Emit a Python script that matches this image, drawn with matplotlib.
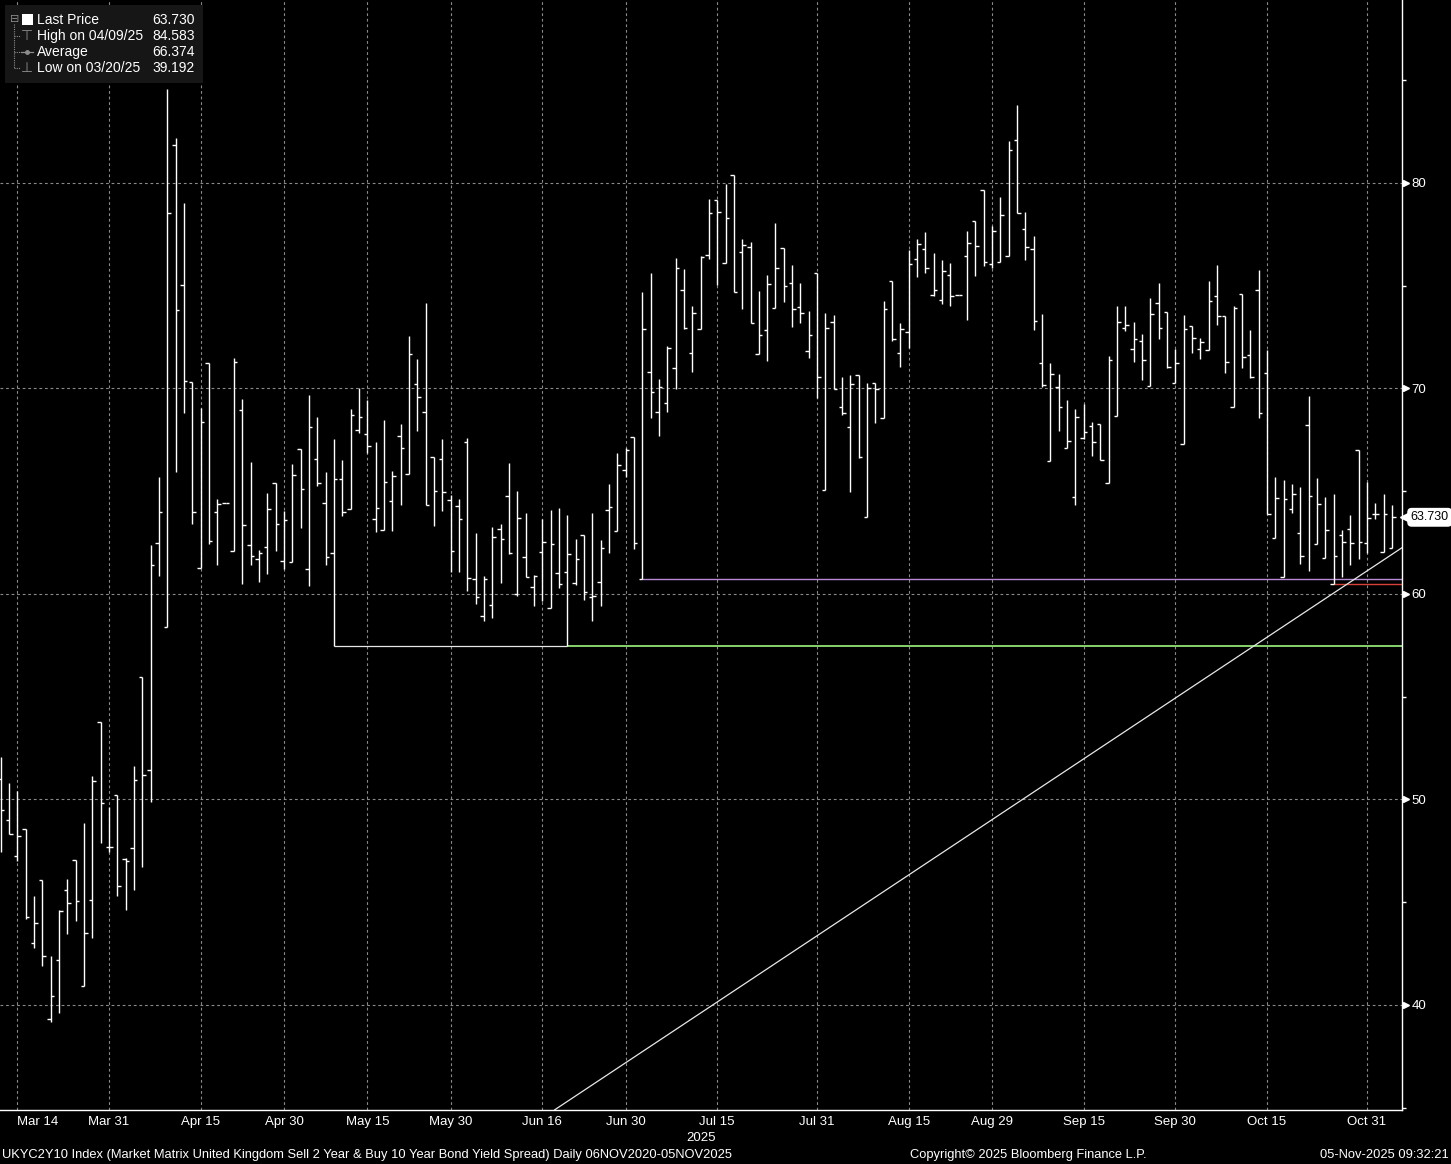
import numpy as np
import matplotlib.pyplot as plt
import matplotlib.transforms as mtransforms
from matplotlib.lines import Line2D
from matplotlib.patches import Rectangle

W, H = 1451, 1164

# daily OHLC, UKYC2Y10 index (bp), 12 Mar 2025 -> 05 Nov 2025
opens = [51.0, 49.0, 47.24, 48.57, 43.0, 46.1, 39.33, 42.2, 45.58, 47.06,
         40.9, 45.09, 53.77, 47.67, 50.2, 47.1, 47.63, 55.98, 51.45, 62.5,
         58.4, 81.84, 75.05, 70.29, 61.26, 71.26, 63.98, 64.42, 62.07, 68.93,
         62.36, 61.7, 62.3, 65.39, 61.62, 61.55, 67.06, 61.21, 66.57, 64.44,
         62.0, 65.61, 64.11, 68.0, 67.76, 63.63, 63.09, 64.5, 67.7, 65.82,
         70.2, 68.83, 66.68, 66.59, 64.59, 64.28, 67.41, 60.73, 58.93, 59.48,
         63.17, 64.76, 60.0, 61.8, 60.36, 62.05, 59.32, 61.02, 61.07, 60.54,
         62.85, 59.85, 60.59, 64.1, 63.06, 66.02, 67.64, 60.75, 70.78, 68.83,
         69.27, 70.97, 74.77, 71.72, 72.91, 76.5, 79.16, 76.08, 80.4, 76.65,
         76.89, 71.67, 72.86, 73.93, 76.84, 75.15, 73.96, 71.8, 75.6, 65.06,
         73.25, 69.08, 68.14, 70.63, 63.75, 70.27, 68.54, 75.21, 71.73, 72.75,
         76.29, 76.78, 74.55, 74.3, 75.53, 74.55, 76.46, 78.16, 79.66, 76.05,
         76.15, 76.46, 82.09, 77.75, 76.78, 71.25, 66.47, 70.05, 67.08, 64.74,
         67.57, 68.15, 68.26, 65.38, 68.64, 72.92, 71.91, 72.3, 70.1, 74.18,
         73.7, 70.24, 67.29, 73.05, 71.91, 71.87, 74.51, 73.5, 69.12, 74.59,
         71.62, 74.79, 70.75, 62.73, 60.83, 64.11, 62.98, 68.2, 62.44, 61.76,
         60.5, 62.85, 63.17, 67.02, 62.46, 63.9, 62.05, 62.24]
highs = [52.07, 50.8, 50.4, 48.57, 45.28, 46.1, 42.4, 44.63, 46.13, 47.06,
         48.86, 51.14, 53.77, 49.63, 50.2, 47.14, 51.63, 55.98, 62.38, 65.7,
         84.58, 82.18, 79.03, 70.29, 69.05, 71.26, 64.6, 64.42, 71.46, 69.48,
         66.41, 62.15, 64.92, 65.39, 64.03, 66.33, 67.06, 69.68, 68.61, 65.92,
         67.53, 66.5, 68.99, 70.0, 69.43, 67.41, 68.46, 66.0, 68.26, 72.54,
         71.43, 74.16, 66.68, 67.53, 64.8, 64.63, 67.6, 62.98, 60.89, 63.27,
         63.38, 66.39, 65.0, 63.92, 60.94, 63.63, 64.08, 64.2, 63.82, 62.68,
         62.85, 63.95, 62.63, 65.37, 66.88, 67.12, 67.64, 74.71, 75.63, 70.45,
         72.07, 76.36, 75.79, 74.01, 76.44, 79.22, 79.16, 79.97, 80.4, 77.25,
         77.12, 74.72, 75.5, 78.03, 76.84, 75.99, 75.11, 73.77, 75.6, 73.69,
         73.56, 70.58, 70.63, 70.63, 70.27, 70.27, 74.24, 75.21, 73.16, 76.75,
         77.27, 77.62, 76.59, 76.26, 76.1, 74.55, 77.67, 78.16, 79.66, 77.91,
         79.3, 82.04, 83.79, 78.58, 77.43, 73.62, 71.25, 70.7, 69.43, 68.99,
         69.24, 68.35, 68.26, 71.56, 73.99, 73.99, 73.21, 72.64, 74.38, 75.13,
         73.7, 71.91, 73.57, 73.05, 72.43, 75.21, 76.0, 73.5, 73.99, 74.59,
         72.85, 75.77, 71.87, 65.71, 65.53, 65.33, 65.2, 69.61, 65.66, 64.7,
         64.85, 63.09, 63.82, 67.02, 65.46, 64.44, 64.88, 64.31]
lows = [47.46, 48.3, 47.0, 44.2, 42.75, 41.9, 39.19, 39.6, 43.45, 44.08,
        40.9, 43.24, 47.87, 47.43, 45.32, 44.6, 45.6, 46.7, 49.86, 60.85,
        58.4, 65.92, 68.79, 63.41, 61.26, 62.44, 61.39, 64.42, 62.07, 60.5,
        61.39, 60.6, 60.99, 62.07, 61.23, 61.55, 63.22, 60.4, 65.24, 61.43,
        57.45, 63.79, 64.11, 67.85, 66.88, 63.0, 63.09, 63.07, 64.33, 65.82,
        67.93, 64.31, 63.3, 64.03, 61.06, 61.06, 60.13, 59.51, 58.67, 58.83,
        60.54, 61.92, 59.89, 60.83, 59.4, 59.64, 59.32, 60.29, 57.45, 60.42,
        59.69, 58.67, 59.43, 62.0, 63.06, 65.71, 62.2, 60.75, 68.54, 67.67,
        68.83, 69.97, 72.91, 70.81, 72.91, 76.28, 75.05, 76.08, 74.69, 73.88,
        73.2, 71.67, 71.34, 73.93, 74.21, 73.01, 73.2, 71.46, 69.51, 65.06,
        69.97, 68.71, 64.94, 66.63, 63.75, 68.33, 68.54, 72.33, 71.05, 71.97,
        75.42, 75.61, 74.48, 74.11, 74.0, 74.55, 73.32, 75.45, 75.94, 75.86,
        76.15, 76.46, 78.53, 76.23, 72.86, 70.06, 66.47, 67.94, 67.08, 64.32,
        67.53, 66.72, 66.51, 65.38, 68.64, 72.81, 71.3, 70.42, 70.1, 72.4,
        70.99, 70.24, 67.29, 71.7, 71.43, 71.87, 73.08, 70.75, 69.12, 70.97,
        70.49, 68.54, 63.88, 62.73, 60.83, 63.95, 61.46, 61.11, 62.44, 61.76,
        60.5, 60.83, 61.41, 61.71, 62.0, 63.66, 62.05, 62.24]
closes = [49.5, 48.3, 48.2, 44.26, 44.0, 42.36, 40.45, 44.55, 44.94, 45.04,
          43.5, 50.9, 49.82, 47.67, 45.79, 47.0, 50.94, 51.18, 61.41, 63.97,
          78.54, 73.8, 70.34, 63.98, 68.35, 62.6, 64.37, 64.42, 71.3, 63.37,
          61.84, 62.0, 64.13, 63.41, 63.6, 65.78, 65.1, 68.1, 65.39, 61.79,
          65.61, 64.0, 68.73, 68.63, 67.19, 64.2, 65.43, 65.76, 67.12, 71.66,
          69.6, 64.31, 65.02, 64.98, 62.08, 63.63, 60.78, 59.87, 60.75, 62.78,
          62.65, 62.0, 63.71, 60.83, 60.85, 62.54, 62.44, 60.49, 61.95, 61.71,
          60.1, 59.92, 62.24, 64.24, 66.28, 66.99, 62.49, 72.91, 69.81, 70.05,
          71.99, 75.84, 72.94, 73.69, 76.41, 78.54, 78.59, 78.3, 74.69, 76.96,
          73.2, 72.59, 75.1, 75.84, 74.98, 73.88, 73.69, 72.59, 70.58, 72.96,
          69.97, 68.79, 70.23, 66.66, 70.03, 69.98, 73.87, 72.41, 72.9, 76.05,
          77.02, 75.84, 74.79, 75.71, 74.48, 74.55, 77.07, 76.94, 76.13, 77.67,
          78.43, 81.6, 78.53, 76.89, 73.3, 70.15, 70.68, 69.08, 67.42, 68.59,
          67.86, 67.37, 66.51, 71.36, 73.21, 73.08, 72.4, 71.38, 73.6, 72.92,
          71.02, 71.22, 72.87, 72.43, 72.24, 74.27, 73.5, 71.27, 73.91, 71.51,
          70.57, 68.8, 63.88, 64.68, 64.6, 64.85, 61.87, 64.78, 64.39, 63.12,
          61.87, 62.54, 62.49, 62.54, 63.69, 63.9, 63.87, 63.73]

tick_pos = [2, 13, 24, 34, 44, 54, 65, 75, 86, 98, 109, 119, 130, 141, 152, 164]
tick_labels = ['Mar 14', 'Mar 31', 'Apr 15', 'Apr 30', 'May 15', 'May 30',
               'Jun 16', 'Jun 30', 'Jul 15', 'Jul 31', 'Aug 15', 'Aug 29',
               'Sep 15', 'Sep 30', 'Oct 15', 'Oct 31']
y_major = [40, 50, 60, 70, 80]
y_minor = [35, 45, 55, 65, 75, 85]

# user drawn lines: (start bar, level)
support_low = (40, 68, 57.45)    # white segment, then green to the right
purple_low = (77, 60.73)
red_low = (160, 60.47)
trend_x = [66.5, 168.2]
trend_y = [34.9, 62.25]

legend_rows = [('Last Price', '63.730'), ('High on 04/09/25', '84.583'),
               ('Average', '66.374'), ('Low on 03/20/25', '39.192')]
last_price = 63.73

plt.rcParams['font.family'] = ['Liberation Sans', 'DejaVu Sans']

fig = plt.figure(figsize=(W / 100, H / 100), dpi=100, facecolor='black')
ax = fig.add_axes([0, 1 - 1110 / H, 1402 / W, 1110 / H], facecolor='black')

x = np.arange(len(closes))
ax.vlines(x, lows, highs, color='white', lw=1.0, zorder=3)
ax.hlines(opens, x - 0.42, x, color='white', lw=1.0, zorder=3)
ax.hlines(closes, x, x + 0.42, color='white', lw=1.0, zorder=3)

xmax = 168.2
ax.hlines(support_low[2], support_low[0], support_low[1], color='#e6e6e6', lw=0.9, zorder=2)
ax.hlines(support_low[2], support_low[1], xmax, color='#86d26e', lw=1.4, zorder=2)
ax.hlines(purple_low[1], purple_low[0], xmax, color='#b88ad6', lw=1.0, zorder=2)
ax.hlines(red_low[1], red_low[0], xmax, color='#d8403a', lw=1.0, zorder=2)
ax.plot(trend_x, trend_y, color='#e8e8e8', lw=0.9, zorder=2)

ax.set_xlim(-0.084, xmax)
ax.set_ylim(34.89, 88.9)

for s in ['left', 'top']:
    ax.spines[s].set_visible(False)
for s in ['right', 'bottom']:
    ax.spines[s].set_color('white')
    ax.spines[s].set_linewidth(1.0)

ax.set_xticks(tick_pos)
ax.set_xticklabels(tick_labels, fontsize=9.5, color='white')
ax.get_xticklabels()[0].set_horizontalalignment('left')
ax.tick_params(axis='x', length=0, pad=4)

ax.yaxis.tick_right()
ax.set_yticks(y_major)
ax.set_yticks(y_minor, minor=True)
ax.set_yticklabels([str(v) for v in y_major], fontsize=9.5, color='white')
ax.tick_params(axis='y', which='major', length=0, pad=7)
ax.tick_params(axis='y', which='minor', length=3, width=1, color='white', direction='out')

ax.grid(True, which='major', color='#8a8a8a', lw=0.8, linestyle=(0, (2.5, 2.5)), zorder=1)

# triangle markers on the right axis
tr = mtransforms.blended_transform_factory(ax.transAxes, ax.transData)
ax.plot([1.0025] * len(y_major), y_major, marker='>', ms=5, color='white', ls='none',
        transform=tr, clip_on=False)

# last price tag
ax.plot([1.003], [last_price], marker='<', ms=8, color='white', transform=tr, clip_on=False)
ax.text(1.0062, last_price, f'{last_price:.3f}', transform=tr, fontsize=9, color='black',
        va='center', ha='left',
        bbox=dict(boxstyle='round,pad=0.22,rounding_size=0.3', fc='white', ec='white'))

# legend box (pixel helpers)
fx = lambda px: px / W
fy = lambda py: 1 - py / H
fig.patches.append(Rectangle((fx(5), fy(83)), fx(198), 78 / H, transform=fig.transFigure,
                             facecolor='#161616', edgecolor='none', zorder=5))
fig.patches.append(Rectangle((fx(22), fy(25)), fx(11), 11 / H, transform=fig.transFigure,
                             facecolor='white', edgecolor='none', zorder=6))
gray = '#8c8c8c'
fig.text(fx(14.5), fy(19), '\u229f', color=gray, fontsize=8, ha='center', va='center',
         family='DejaVu Sans', zorder=6)
fig.lines.append(Line2D([fx(14.5), fx(14.5)], [fy(24), fy(68)], color=gray, lw=0.8,
                        ls=(0, (1, 1)), transform=fig.transFigure, zorder=6))
for yy in [36, 52, 68]:
    fig.lines.append(Line2D([fx(14.5), fx(20)], [fy(yy), fy(yy)], color=gray, lw=0.8,
                            ls=(0, (1, 1)), transform=fig.transFigure, zorder=6))
fig.text(fx(27), fy(36), '\u22a4', color=gray, fontsize=10, ha='center', va='center',
         family='DejaVu Sans', zorder=6)
fig.lines.append(Line2D([fx(21), fx(33)], [fy(52), fy(52)], color=gray, lw=0.9,
                        transform=fig.transFigure, zorder=6))
fig.lines.append(Line2D([fx(27)], [fy(52)], color=gray, marker='o', ms=2.5,
                        transform=fig.transFigure, zorder=6))
fig.text(fx(27), fy(68), '\u22a5', color=gray, fontsize=10, ha='center', va='center',
         family='DejaVu Sans', zorder=6)
for i, (name, val) in enumerate(legend_rows):
    yy = 20 + 16 * i
    fig.text(fx(37), fy(yy), name, color='white', fontsize=10, ha='left', va='center', zorder=6)
    fig.text(fx(195), fy(yy), val, color='white', fontsize=10, ha='right', va='center', zorder=6)

# year under the date axis and footer
fig.text(fx(701), fy(1138), '2025', color='white', fontsize=9.5, ha='center', va='center')
fig.text(fx(2), fy(1155),
         'UKYC2Y10 Index (Market Matrix United Kingdom Sell 2 Year & Buy 10 Year Bond Yield Spread) '
         'Daily 06NOV2020-05NOV2025',
         color='white', fontsize=9.3, ha='left', va='center')
fig.text(fx(1028), fy(1155), 'Copyright\u00a9 2025 Bloomberg Finance L.P.', color='white',
         fontsize=9.3, ha='center', va='center')
fig.text(fx(1449), fy(1155), '05-Nov-2025 09:32:21', color='white', fontsize=9.3,
         ha='right', va='center')

fig.savefig('out.png', dpi=100, facecolor='black')
